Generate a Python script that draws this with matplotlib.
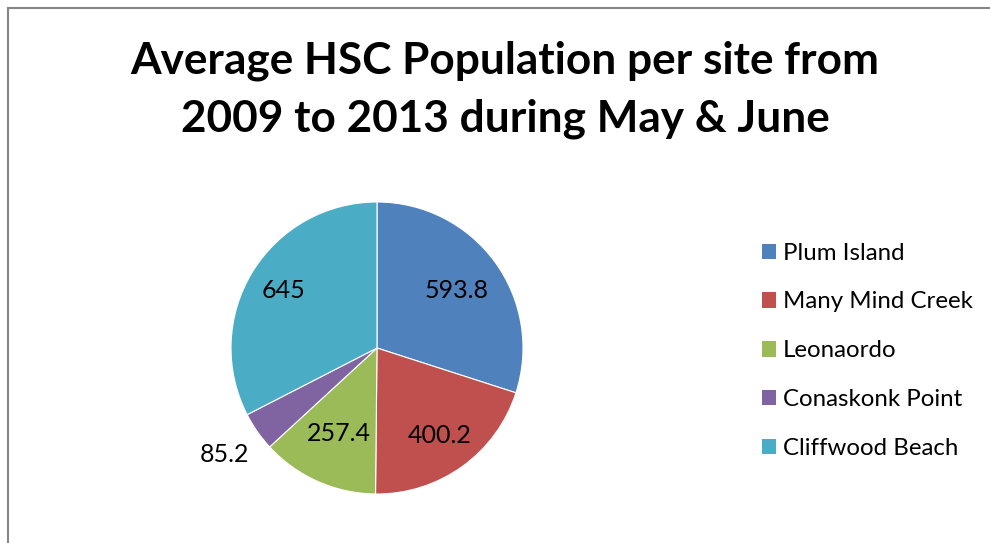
import numpy as np
import matplotlib.pyplot as plt
from matplotlib.patches import Patch
from matplotlib.lines import Line2D

sites = ['Plum Island', 'Many Mind Creek', 'Leonaordo', 'Conaskonk Point', 'Cliffwood Beach']
populations = [593.8, 400.2, 257.4, 85.2, 645]
value_labels = ['593.8', '400.2', '257.4', '85.2', '645']
colors = ['#4F81BD', '#C0504D', '#9BBB59', '#8064A2', '#4BACC6']

plt.rcParams['font.family'] = ['Lato', 'DejaVu Sans']

fig = plt.figure(figsize=(9.9, 5.43), dpi=100)

# chart area border (left and top edges only)
fig.add_artist(Line2D([7.5 / 990, 7.5 / 990], [0, 1 - 7.5 / 543], color='#868686', lw=1.5))
fig.add_artist(Line2D([7.5 / 990, 1], [1 - 7.5 / 543, 1 - 7.5 / 543], color='#868686', lw=1.5))

fig.text(505 / 990, 1 - 90 / 543, 'Average HSC Population per site from\n2009 to 2013 during May & June',
         ha='center', va='center', fontsize=31.8, fontweight='bold', linespacing=1.52)

# pie axes: center (377, 348) px, radius 146 px
r_px = 146
ax = fig.add_axes([(377 - r_px) / 990, 1 - (348 + r_px) / 543, 2 * r_px / 990, 2 * r_px / 543])
wedges, _ = ax.pie(populations, colors=colors, startangle=90, counterclock=False,
                   wedgeprops=dict(edgecolor='white', linewidth=0.8))
ax.set_xlim(-1, 1)
ax.set_ylim(-1, 1)
ax.set_aspect('equal')

# data labels, the small slice sits outside
label_dist = [0.67, 0.74, 0.64, 1.27, 0.75]
for w, txt, d in zip(wedges, value_labels, label_dist):
    mid = np.deg2rad((w.theta1 + w.theta2) / 2)
    ax.text(d * np.cos(mid), d * np.sin(mid), txt, ha='center', va='center', fontsize=18)

handles = [Patch(facecolor=c, edgecolor='none') for c in colors]
fig.legend(handles, sites, loc='upper left', bbox_to_anchor=(752 / 990, 1 - 233 / 543),
           frameon=False, fontsize=17.3, handlelength=0.6, handleheight=0.6,
           handletextpad=0.3, labelspacing=1.16, borderaxespad=0)

fig.savefig('out.png', dpi=100)
